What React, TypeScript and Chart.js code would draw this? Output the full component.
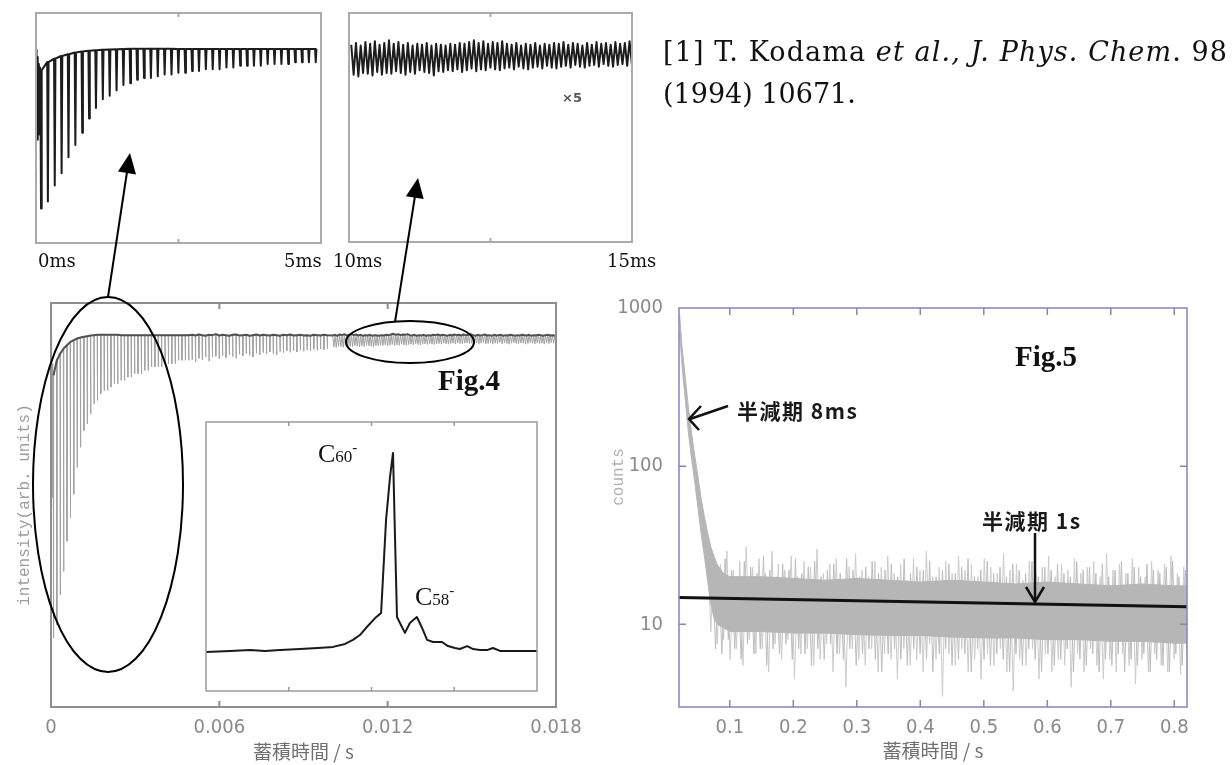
import React, { useEffect, useRef } from 'react';
import { Chart, registerables } from 'chart.js';

Chart.register(...registerables);

// ================= DATA =================
// Fig.4 time signal (time in ms, intensity in arb. units)
const burstTimesMs = [0, 0.01, 0.02, 0.03, 0.04, 0.05, 0.06, 0.07];
const burstValues = [100, 55, 96, 49, 92, 52, 90, 60];

// 0–5 ms : spike bottoms and recovered tops
const earlyDepths = [10, 14, 23, 30, 39, 46, 53, 61, 67, 72, 74, 77, 80, 81, 83, 84, 84, 85, 86, 86, 87, 87, 88, 88, 89, 89, 89, 90, 90, 91, 91, 91, 91, 92, 92, 92, 92, 93, 93, 93, 93];
const earlyTops = [88.5, 93, 95, 96.5, 97.5, 98.5, 99, 99.5, 99.8, 100, 100.2, 100.4, 100.5, 100.6, 100.6, 100.6, 100.6, 100.6, 100.6, 100.6, 100.5, 100.5, 100.5, 100.5, 100.5, 100.5, 100.5, 100.5, 100.5, 100.5, 100.5, 100.5, 100.5, 100.5, 100.5, 100.5, 100.5, 100.5, 100.5, 100.5, 100.5];

// 5–10 ms
const midDepths = [93.2, 92.5, 93.6, 93.1, 94.0, 92.8, 93.9, 94.2, 93.5, 94.4, 93.8, 94.6, 94.1, 93.6, 94.8, 94.3, 95.0, 94.5, 94.0, 95.1, 94.7, 95.3, 94.9, 95.5, 95.0, 94.6, 95.6, 95.2, 95.8, 95.4, 95.9, 95.5, 96.0, 95.7, 96.1, 95.8, 96.3, 96.0, 96.4, 96.2, 96.5];
const midTops = [100.6, 100.4, 100.7, 100.5, 100.3, 100.6, 100.5, 100.8, 100.4, 100.6, 100.5, 100.3, 100.6, 100.7, 100.4, 100.5, 100.6, 100.3, 100.5, 100.7, 100.4, 100.6, 100.5, 100.4, 100.6, 100.5, 100.3, 100.6, 100.5, 100.7, 100.4, 100.5, 100.6, 100.4, 100.5, 100.3, 100.6, 100.5, 100.4, 100.6, 100.5];

// 10–15 ms (shown x5 in the upper inset)
const lateDepths = [97.0, 96.8, 97.2, 97.1, 96.9, 97.3, 97.0, 97.2, 97.1, 97.4, 97.2, 97.0, 97.3, 97.1, 97.5, 97.3, 97.2, 96.9, 97.4, 97.3, 97.5, 97.4, 97.6, 97.3, 97.5, 97.7, 97.4, 97.6, 97.5, 97.8, 97.6, 97.5, 97.7, 97.8, 97.6, 97.9, 97.7, 97.6, 97.8, 97.9, 97.7, 98.0, 97.8, 97.7, 97.9, 98.0, 97.8, 98.1, 97.9, 97.8, 98.0, 98.1, 97.9, 98.2, 98.0, 97.9, 98.1, 98.2, 98.0, 98.1];
const lateTops = [100.4, 100.6, 100.3, 100.7, 100.5, 100.8, 100.4, 100.6, 100.9, 100.5, 100.7, 100.4, 100.6, 100.3, 100.5, 100.4, 100.6, 100.3, 100.5, 100.4, 100.3, 100.5, 100.4, 100.6, 100.5, 100.7, 100.9, 100.6, 100.8, 100.5, 100.7, 100.6, 100.8, 100.5, 100.4, 100.6, 100.3, 100.5, 100.4, 100.6, 100.3, 100.5, 100.4, 100.6, 100.5, 100.7, 100.4, 100.6, 100.5, 100.3, 100.6, 100.4, 100.7, 100.5, 100.6, 100.4, 100.7, 100.5, 100.6, 100.8];

// 15–18 ms
const tailDepths = [97.9, 98.2, 97.8, 98.1, 98.3, 97.9, 98.0, 98.2, 97.8, 98.1, 98.0, 98.3, 97.9, 98.2, 98.0, 97.8, 98.1, 98.3, 98.0, 97.9, 98.2, 98.1, 97.8, 98.0, 98.3, 98.1, 97.9, 98.2, 98.0, 98.1, 97.8, 98.2, 98.0, 98.3, 98.1, 97.9];
const tailTops = [100.5, 100.3, 100.6, 100.4, 100.5, 100.7, 100.4, 100.5, 100.3, 100.6, 100.4, 100.5, 100.6, 100.3, 100.5, 100.4, 100.6, 100.5, 100.3, 100.5, 100.4, 100.6, 100.5, 100.4, 100.6, 100.3, 100.5, 100.4, 100.6, 100.5, 100.3, 100.5, 100.6, 100.4, 100.5, 100.4];

// Fig.4 inset: mass spectrum (arbitrary axes 0–100)
const specX = [0, 7.3, 13.3, 17.8, 22.4, 28.4, 33.8, 38.4, 42.0, 44.4, 46.5, 48.6, 51.1, 52.9, 54.4, 55.6, 56.5, 57.1, 57.7, 58.6, 60.1, 61.6, 63.7, 65.3, 66.8, 68.6, 71.3, 73.1, 75.2, 76.7, 78.9, 80.7, 82.8, 84.9, 86.7, 88.8, 93.4, 100];
const specY = [14.5, 14.9, 15.2, 14.9, 15.2, 15.6, 16.0, 16.4, 17.5, 19.0, 20.8, 23.8, 27.1, 29.0, 63.6, 79.6, 88.5, 57.2, 27.5, 25.3, 21.6, 25.3, 27.5, 23.4, 19.0, 18.2, 18.2, 16.7, 16.0, 15.6, 16.7, 15.6, 15.2, 15.2, 16.0, 14.9, 14.9, 14.9];
const specTicks = [25, 50, 75];

const fig4XTicks = [0, 0.006, 0.012, 0.018];
const fig4XLabels = ['0', '0.006', '0.012', '0.018'];

// Fig.5 counts vs time
const envX = [0.021, 0.025, 0.03, 0.035, 0.04, 0.045, 0.05, 0.055, 0.06, 0.065, 0.07, 0.075, 0.08, 0.09, 0.1, 0.15, 0.2, 0.25, 0.3, 0.35, 0.4, 0.45, 0.5, 0.55, 0.6, 0.65, 0.7, 0.75, 0.8, 0.82];
const envHi = [900, 560, 360, 230, 160, 115, 85, 62, 48, 38, 31, 27, 24, 21, 20, 20, 19.5, 19, 19.5, 19, 18.5, 19, 18.5, 18, 18.5, 18, 17.5, 18, 17.5, 17.5];
const envLo = [700, 420, 260, 160, 110, 78, 54, 37, 27, 19, 13.5, 11, 10, 9.5, 9, 9, 8.8, 8.8, 8.6, 8.5, 8.5, 8.3, 8.2, 8.2, 8, 8, 7.8, 7.8, 7.6, 7.6];
const noiseHi = [32, 27, 24, 29, 22, 25, 31, 23, 26, 21, 29, 24, 22, 27, 20, 25, 23, 30, 21, 24, 26, 19, 23, 28, 22, 20, 25, 23, 27, 21, 24, 19, 26, 22, 29, 20, 23, 25, 21, 27, 22, 24, 20, 26, 23, 21, 28, 22, 24, 19, 25, 21, 23, 27, 20, 24, 22, 26, 21, 23, 25, 20, 28, 22, 24, 21, 26, 23, 20, 25, 22, 24, 27, 21, 23];
const noiseLo = [9, 7.5, 8, 6, 7, 5.5, 8, 6.5, 7, 5, 7.5, 6, 8, 4.5, 6.5, 7, 5.5, 6, 7.5, 5, 6.5, 4, 7, 6, 5.5, 7, 5, 6.5, 6, 4.5, 7, 5.5, 6, 5, 7.5, 6, 3.5, 6.5, 5.5, 7, 5, 6, 4.5, 6.5, 5.5, 7, 5, 3.8, 6, 5.5, 7, 4.5, 6.5, 5, 6, 5.5, 4, 6.5, 5, 7, 5.5, 4.5, 6, 5, 6.5, 5.5, 4.2, 6, 5, 6.5, 5.5, 5, 6, 4.8, 6.5];
const noise2Hi = [24, 21, 26, 22, 20, 25, 23, 21, 27, 22, 20, 24, 22, 26, 21, 23, 25, 20, 22, 24, 21, 26, 22, 20, 23, 25, 21, 22, 24, 20, 26, 21, 23, 22, 25, 20, 22, 24, 21, 23, 26, 20, 22, 25, 21, 23, 20, 24, 22, 21, 25, 20, 23, 22, 24, 21, 20, 25, 22, 23, 21, 24, 20, 22, 25, 21, 23, 20, 24, 22, 21, 23, 25, 20, 22];
const noise2Lo = [7, 6.5, 8, 7, 6, 7.5, 6.5, 7, 5.5, 7, 6.5, 7.5, 6, 7, 6.5, 5.5, 7, 6, 7.5, 6.5, 6, 7, 5.5, 6.5, 7, 6, 5, 6.5, 7, 6, 5.5, 7, 6.5, 6, 5, 6.5, 7, 5.5, 6, 6.5, 5, 7, 6, 5.5, 6.5, 6, 5, 6.5, 5.5, 7, 6, 5, 6.5, 5.5, 6, 7, 5, 6, 5.5, 6.5, 5, 6, 5.5, 6.5, 5, 6, 5.5, 6.5, 5, 6, 5.5, 5, 6.5, 5.5, 6];
const fitX = [0.02, 0.82];
const fitY = [14.8, 12.9];

const fig5XTicks = [0.1, 0.2, 0.3, 0.4, 0.5, 0.6, 0.7, 0.8];
const fig5XLabels = ['0.1', '0.2', '0.3', '0.4', '0.5', '0.6', '0.7', '0.8'];
const fig5YTicks = [10, 100, 1000];
const fig5YLabels = ['10', '100', '1000'];

// sampling of the pulse train (ms)
const EARLY_START = 0.088;
const EARLY_PERIOD = 0.1205;
const MID_START = 5.03;
const LATE_START = 10.04;
const LATE_PERIOD = 5 / 60;
const TAIL_START = 15.04;

// ================= helpers =================
type P = { x: number; y: number };

function vSpikes(start: number, period: number, tops: number[], depths: number[], half: number): P[] {
  const n = Math.min(tops.length, depths.length);
  const pts: P[] = [];
  for (let i = 0; i < n; i++) {
    const t = start + i * period;
    pts.push({ x: t - half, y: tops[i] }, { x: t, y: depths[i] }, { x: t + half, y: tops[i] });
  }
  return pts;
}
function zigzag(start: number, period: number, tops: number[], depths: number[]): P[] {
  const n = Math.min(tops.length, depths.length);
  const pts: P[] = [];
  for (let i = 0; i < n; i++) {
    const t = start + i * period;
    pts.push({ x: t, y: tops[i] }, { x: t + period / 2, y: depths[i] });
  }
  return pts;
}
function topsOnly(start: number, period: number, tops: number[]): P[] {
  return tops.map((v, i) => ({ x: start + i * period, y: v }));
}
function noiseLine(hi: number[], lo: number[], x0: number, x1: number, shift: number): P[] {
  const n = Math.min(hi.length, lo.length);
  const total = n * 2;
  const step = (x1 - x0) / (total - 1);
  const pts: P[] = [];
  for (let i = 0; i < n; i++) {
    pts.push({ x: x0 + (2 * i + shift) * step, y: hi[i] });
    pts.push({ x: x0 + (2 * i + 1 + shift) * step, y: lo[i] });
  }
  return pts;
}
const burstPts: P[] = burstTimesMs.map((t, i) => ({ x: t, y: burstValues[i] }));

const inset1Pts: P[] = [...burstPts, ...vSpikes(EARLY_START, EARLY_PERIOD, earlyTops, earlyDepths, 0.012)];
const inset2Pts: P[] = zigzag(LATE_START, LATE_PERIOD, lateTops, lateDepths);
const mainPtsMs: P[] = [
  ...burstPts,
  ...vSpikes(EARLY_START, EARLY_PERIOD, earlyTops, earlyDepths, 0.01),
  ...vSpikes(MID_START, EARLY_PERIOD, midTops, midDepths, 0.01),
  ...zigzag(LATE_START, LATE_PERIOD, lateTops, lateDepths),
  ...zigzag(TAIL_START, LATE_PERIOD, tailTops, tailDepths),
];
const mainPts = mainPtsMs.map((p) => ({ x: p.x / 1000, y: p.y }));
const mainTopPts = [
  ...topsOnly(EARLY_START, EARLY_PERIOD, earlyTops),
  ...topsOnly(MID_START, EARLY_PERIOD, midTops),
  ...topsOnly(LATE_START, LATE_PERIOD, lateTops),
  ...topsOnly(TAIL_START, LATE_PERIOD, tailTops),
].map((p) => ({ x: p.x / 1000, y: p.y }));

const specPts = specX.map((x, i) => ({ x, y: specY[i] }));
const envHiPts = envX.map((x, i) => ({ x, y: envHi[i] }));
const envLoPts = envX.map((x, i) => ({ x, y: envLo[i] }));
const noisePts = noiseLine(noiseHi, noiseLo, 0.065, 0.82, 0);
const noise2Pts = noiseLine(noise2Hi, noise2Lo, 0.07, 0.82, 0.5);
const fitPts = fitX.map((x, i) => ({ x, y: fitY[i] }));

// frame + inward tick marks drawn from the chart's own scales
const framePlugin = {
  id: 'frameTicks',
  afterDatasetsDraw(chart: any, _args: any, opts: any) {
    const { ctx, chartArea } = chart;
    const { left, top, right, bottom } = chartArea;
    const xs = chart.scales.x;
    const ys = chart.scales.y;
    ctx.save();
    ctx.strokeStyle = opts.color;
    ctx.lineWidth = opts.width;
    ctx.beginPath();
    (opts.xTicks || []).forEach((v: number) => {
      const p = xs.getPixelForValue(v);
      ctx.moveTo(p, bottom);
      ctx.lineTo(p, bottom - opts.len);
      ctx.moveTo(p, top);
      ctx.lineTo(p, top + opts.len);
    });
    (opts.yTicks || []).forEach((v: number) => {
      const p = ys.getPixelForValue(v);
      ctx.moveTo(left, p);
      ctx.lineTo(left + opts.len, p);
      ctx.moveTo(right, p);
      ctx.lineTo(right - opts.len, p);
    });
    ctx.stroke();
    ctx.strokeRect(left, top, right - left, bottom - top);
    ctx.restore();
  },
};

const TICK_FONT = { family: "'Liberation Sans Narrow', 'DejaVu Sans Condensed', 'Liberation Sans', sans-serif", size: 20 };
const CJK_FONT = { family: "'Noto Sans CJK JP', sans-serif", size: 19 };

function baseOptions(padding: any, frame: any, scales: any) {
  return {
    responsive: false,
    maintainAspectRatio: false,
    animation: false,
    events: [],
    layout: { padding },
    elements: { point: { radius: 0 }, line: { tension: 0, borderJoinStyle: 'round' } },
    plugins: { legend: { display: false }, tooltip: { enabled: false }, frameTicks: frame },
    scales,
  };
}
const noGrid = { display: false, drawTicks: false };

const buildInset1 = () => ({
  type: 'line',
  data: { datasets: [{ data: inset1Pts, borderColor: '#1c1c1c', borderWidth: 2, pointRadius: 0, fill: false }] },
  options: baseOptions(2, { color: '#ababab', width: 2, len: 4, xTicks: [2.5] }, {
    x: { type: 'linear', display: false, min: 0, max: 5 },
    y: { type: 'linear', display: false, min: -9.6, max: 120.9 },
  }),
  plugins: [framePlugin],
});

const buildInset2 = () => ({
  type: 'line',
  data: { datasets: [{ data: inset2Pts, borderColor: '#1c1c1c', borderWidth: 2, pointRadius: 0, fill: false }] },
  options: baseOptions(2, { color: '#ababab', width: 2, len: 4, xTicks: [12.5] }, {
    x: { type: 'linear', display: false, min: 10, max: 15 },
    y: { type: 'linear', display: false, min: 78, max: 104 },
  }),
  plugins: [framePlugin],
});

const buildFig4 = () => ({
  type: 'line',
  data: {
    datasets: [
      { data: mainTopPts, borderColor: '#505050', borderWidth: 2, pointRadius: 0, fill: false },
      { data: mainPts, borderColor: '#a2a2a2', borderWidth: 1, pointRadius: 0, fill: false },
    ],
  },
  options: baseOptions({ left: 0, top: 8, right: 44, bottom: 0 }, { color: '#8e8e8e', width: 2, len: 6, xTicks: [0.006, 0.012] }, {
    x: {
      type: 'linear', min: 0, max: 0.018,
      afterBuildTicks: (s: any) => { s.ticks = fig4XTicks.map((v) => ({ value: v })); },
      ticks: { callback: (_v: any, i: number) => fig4XLabels[i], font: TICK_FONT, color: '#8a8a8a', padding: 9, autoSkip: false, maxRotation: 0 },
      grid: noGrid, border: { display: false },
      title: { display: true, text: '蓄積時間 / s', font: CJK_FONT, color: '#707070', padding: { top: 0, bottom: 2 } },
      afterFit: (s: any) => { s.height = 58; },
    },
    y: {
      type: 'linear', min: -10.5, max: 110.1,
      ticks: { display: false }, grid: noGrid, border: { display: false },
      title: { display: true, text: 'intensity(arb. units)', font: { family: "'Liberation Mono', 'DejaVu Sans Mono', monospace", size: 16 }, color: '#9c9c9c', padding: { top: 15, bottom: 0 } },
      afterFit: (s: any) => { s.width = 51; },
    },
  }),
  plugins: [framePlugin],
});

const buildSpec = () => ({
  type: 'line',
  data: { datasets: [{ data: specPts, borderColor: '#1a1a1a', borderWidth: 2, pointRadius: 0, fill: false }] },
  options: baseOptions(2, { color: '#9a9a9a', width: 1.5, len: 4, xTicks: specTicks }, {
    x: { type: 'linear', display: false, min: 0, max: 100 },
    y: { type: 'linear', display: false, min: 0, max: 100 },
  }),
  plugins: [framePlugin],
});

const buildFig5 = () => ({
  type: 'line',
  data: {
    datasets: [
      { data: fitPts, borderColor: '#111111', borderWidth: 3, pointRadius: 0, fill: false },
      { data: envHiPts, borderColor: '#b6b6b6', borderWidth: 1, pointRadius: 0, fill: false },
      { data: envLoPts, borderColor: '#b6b6b6', borderWidth: 1, pointRadius: 0, fill: '-1', backgroundColor: '#b6b6b6' },
      { data: noise2Pts, borderColor: '#bdbdbd', borderWidth: 1, pointRadius: 0, fill: false },
      { data: noisePts, borderColor: '#cbcbcb', borderWidth: 1, pointRadius: 0, fill: false },
    ],
  },
  options: baseOptions({ left: 0, top: 11, right: 45, bottom: 0 }, { color: '#8484c2', width: 1.5, len: 7, xTicks: fig5XTicks, yTicks: [10, 100] }, {
    x: {
      type: 'linear', min: 0.02, max: 0.82,
      afterBuildTicks: (s: any) => { s.ticks = fig5XTicks.map((v) => ({ value: v })); },
      ticks: { callback: (_v: any, i: number) => fig5XLabels[i], font: TICK_FONT, color: '#8a8a8a', padding: 9, autoSkip: false, maxRotation: 0 },
      grid: noGrid, border: { display: false },
      title: { display: true, text: '蓄積時間 / s', font: CJK_FONT, color: '#707070', padding: { top: 0, bottom: 3 } },
      afterFit: (s: any) => { s.height = 58; },
    },
    y: {
      type: 'logarithmic', min: 3, max: 1000,
      afterBuildTicks: (s: any) => { s.ticks = fig5YTicks.map((v) => ({ value: v })); },
      ticks: { callback: (_v: any, i: number) => fig5YLabels[i], font: TICK_FONT, color: '#8a8a8a', padding: 16, autoSkip: false },
      grid: noGrid, border: { display: false },
      afterFit: (s: any) => { s.width = 79; },
    },
  }),
  plugins: [framePlugin],
});

// ================= components =================
function ChartBox({ left, top, width, height, build }: { left: number; top: number; width: number; height: number; build: () => any }) {
  const ref = useRef<HTMLCanvasElement | null>(null);
  useEffect(() => {
    if (!ref.current) return;
    const chart = new Chart(ref.current, build());
    return () => chart.destroy();
  }, [build]);
  return (
    <div style={{ position: 'absolute', left, top, width, height }}>
      <canvas ref={ref} width={width} height={height} style={{ width, height, display: 'block' }} />
    </div>
  );
}

const abs = (left: number, top: number, extra: React.CSSProperties = {}): React.CSSProperties => ({
  position: 'absolute', left, top, whiteSpace: 'nowrap', lineHeight: 1, color: '#111', ...extra,
});
const SERIF = "'DejaVu Serif', serif";
const TIMES = "'Liberation Serif', serif";
const GOTH = "'Noto Sans CJK JP', sans-serif";

export default function App() {
  return (
    <div style={{ position: 'fixed', left: 0, top: 0, width: 1232, height: 765, background: '#ffffff', overflow: 'hidden' }}>
      <ChartBox left={34} top={11} width={289} height={234} build={buildInset1} />
      <ChartBox left={347} top={11} width={287} height={233} build={buildInset2} />
      <ChartBox left={0} top={295} width={600} height={470} build={buildFig4} />
      <ChartBox left={204} top={420} width={335} height={273} build={buildSpec} />
      <ChartBox left={600} top={280} width={632} height={485} build={buildFig5} />

      <svg width={1232} height={765} style={{ position: 'absolute', left: 0, top: 0, pointerEvents: 'none' }}>
        <ellipse cx={108} cy={484.5} rx={75} ry={187.5} fill="none" stroke="#000" strokeWidth={2} />
        <ellipse cx={410} cy={342} rx={64} ry={21} fill="none" stroke="#000" strokeWidth={2} />
        <line x1={108} y1={297} x2={127} y2={172} stroke="#000" strokeWidth={2} />
        <polygon points="130,153 118,171.6 136,174.4" fill="#000" />
        <line x1={395} y1={322} x2={415} y2={196} stroke="#000" strokeWidth={2} />
        <polygon points="418,178 405.9,196.3 423.7,199.1" fill="#000" />
        <line x1={728} y1={406} x2={690} y2={419} stroke="#111" strokeWidth={2.5} />
        <polyline points="701,406 689,419 699,430" fill="none" stroke="#111" strokeWidth={2.5} />
        <line x1={1035} y1={533} x2={1035} y2={601} stroke="#111" strokeWidth={2.5} />
        <polyline points="1026,587 1035,602 1044,587" fill="none" stroke="#111" strokeWidth={2.5} />
      </svg>

      <div style={abs(663, 38, { fontFamily: SERIF, fontSize: 27, letterSpacing: 1.1 })}>
        [1] T. Kodama <i>et al., J. Phys. Chem</i>. 98
      </div>
      <div style={abs(663, 80, { fontFamily: SERIF, fontSize: 27 })}>(1994) 10671.</div>

      <div style={abs(38, 252, { fontFamily: SERIF, fontSize: 18 })}>0ms</div>
      <div style={abs(284, 252, { fontFamily: SERIF, fontSize: 18 })}>5ms</div>
      <div style={abs(333, 252, { fontFamily: SERIF, fontSize: 18 })}>10ms</div>
      <div style={abs(607, 252, { fontFamily: SERIF, fontSize: 18 })}>15ms</div>
      <div style={abs(562, 91, { fontFamily: "'DejaVu Sans', sans-serif", fontSize: 13, fontWeight: 700, color: '#555' })}>×5</div>

      <div style={abs(438, 366, { fontFamily: TIMES, fontSize: 29, fontWeight: 700 })}>Fig.4</div>
      <div style={abs(1015, 342, { fontFamily: TIMES, fontSize: 29, fontWeight: 700 })}>Fig.5</div>

      <div style={abs(318, 441, { fontFamily: TIMES })}>
        <span style={{ fontSize: 26 }}>C</span>
        <span style={{ fontSize: 17 }}>60</span>
        <span style={{ fontSize: 15, position: 'relative', top: -10 }}>-</span>
      </div>
      <div style={abs(415, 584, { fontFamily: TIMES })}>
        <span style={{ fontSize: 26 }}>C</span>
        <span style={{ fontSize: 17 }}>58</span>
        <span style={{ fontSize: 15, position: 'relative', top: -10 }}>-</span>
      </div>

      <div style={abs(737, 400, { fontFamily: GOTH, fontSize: 21, fontWeight: 700, letterSpacing: 1.5, color: '#1a1a1a' })}>半減期 8ms</div>
      <div style={abs(982, 510, { fontFamily: GOTH, fontSize: 21, fontWeight: 700, letterSpacing: 1.5, color: '#1a1a1a' })}>半減期 1s</div>

      <div style={abs(619, 477, { fontFamily: "'Liberation Mono', 'DejaVu Sans Mono', monospace", fontSize: 16, color: '#b0b0b0', transform: 'translate(-50%, -50%) rotate(-90deg)' })}>counts</div>
    </div>
  );
}
